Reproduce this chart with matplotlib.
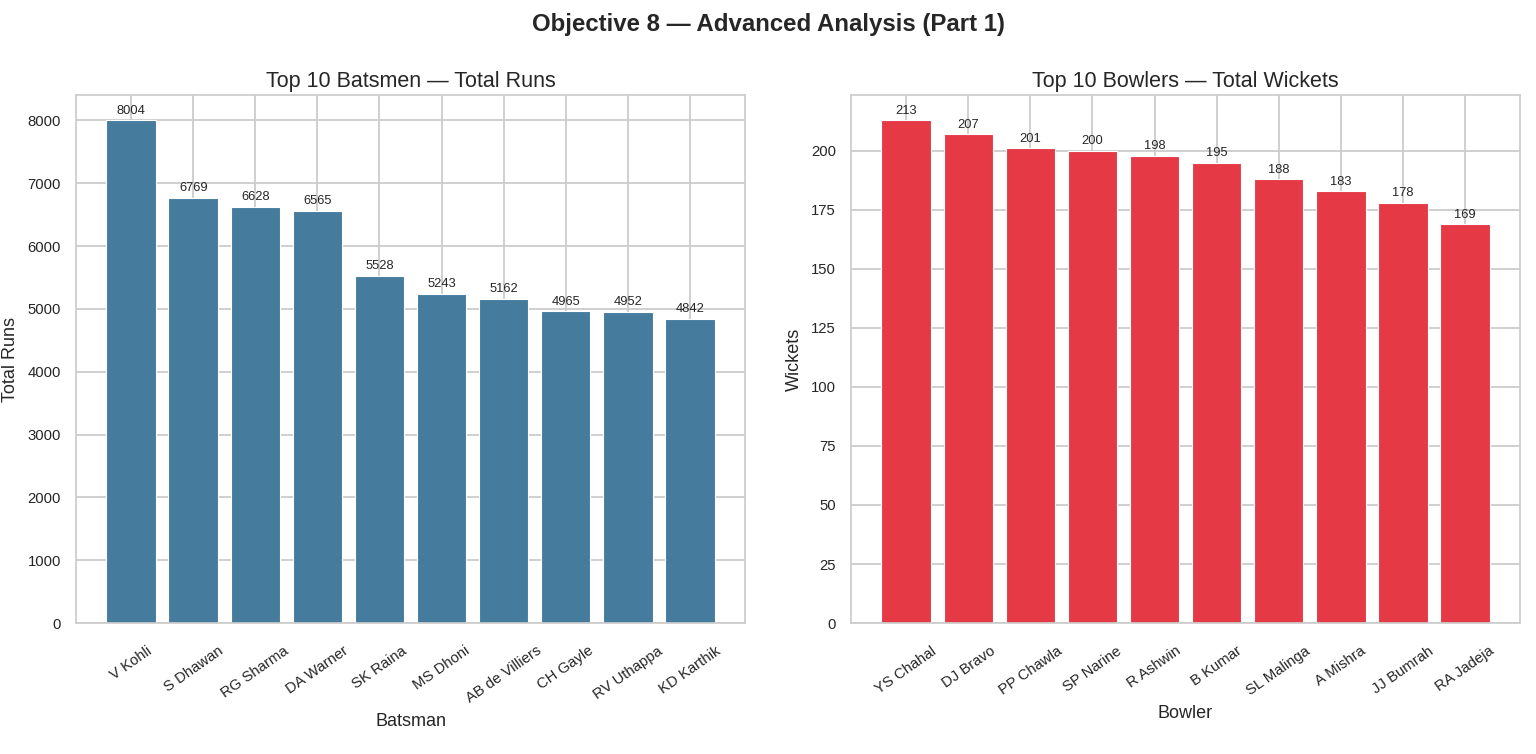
import matplotlib
matplotlib.use("Agg")
import matplotlib.pyplot as plt
import seaborn as sns

batsmen = ["V Kohli", "S Dhawan", "RG Sharma", "DA Warner", "SK Raina",
           "MS Dhoni", "AB de Villiers", "CH Gayle", "RV Uthappa", "KD Karthik"]
runs = [8004, 6769, 6628, 6565, 5528, 5243, 5162, 4965, 4952, 4842]

bowlers = ["YS Chahal", "DJ Bravo", "PP Chawla", "SP Narine", "R Ashwin",
           "B Kumar", "SL Malinga", "A Mishra", "JJ Bumrah", "RA Jadeja"]
wickets = [213, 207, 201, 200, 198, 195, 188, 183, 178, 169]

sns.set_theme(style="whitegrid")
plt.rcParams['font.family'] = ['Liberation Sans', 'DejaVu Sans']
plt.rcParams['grid.linewidth'] = 1.3

fig, axes = plt.subplots(1, 2, figsize=(15.36, 7.54), dpi=100)
fig.subplots_adjust(left=0.0495, right=0.9896, top=0.874, bottom=0.1737, wspace=0.1585)

def draw(ax, labels, vals, color, title, xlabel, ylabel):
    x = range(len(labels))
    ax.bar(x, vals, color=color, edgecolor='white', linewidth=0.8)
    for xi, v in zip(x, vals):
        ax.annotate(str(v), (xi, v), xytext=(0, 2.5), textcoords='offset points',
                    ha='center', va='bottom', fontsize=9.3)
    ax.set_xticks(list(x))
    ax.set_xticklabels(labels, rotation=35, fontsize=10.7)
    ax.tick_params(axis='x', pad=9)
    ax.tick_params(axis='y', labelsize=10.7, pad=5)
    ax.set_title(title, fontsize=15.5)
    ax.set_xlabel(xlabel, fontsize=13, labelpad=5)
    ax.set_ylabel(ylabel, fontsize=13, labelpad=6)

draw(axes[0], batsmen, runs, '#457b9d', 'Top 10 Batsmen — Total Runs', 'Batsman', 'Total Runs')
draw(axes[1], bowlers, wickets, '#e63946', 'Top 10 Bowlers — Total Wickets', 'Bowler', 'Wickets')

fig.suptitle('Objective 8 — Advanced Analysis (Part 1)', fontsize=17.3, fontweight='bold',
             y=0.967, va='center')
fig.savefig('out.png', dpi=100)
